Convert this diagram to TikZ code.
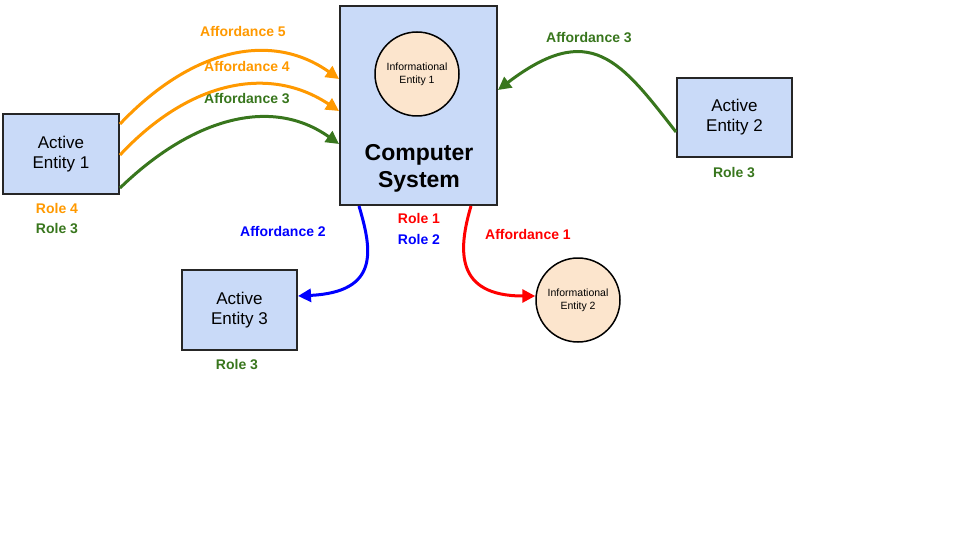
\documentclass[tikz,border=0pt]{standalone}
\usepackage{fontspec}
\setmainfont{Liberation Sans}
\usetikzlibrary{arrows.meta}
\definecolor{boxblue}{HTML}{C9DAF8}
\definecolor{peach}{HTML}{FCE5CD}
\definecolor{cor}{HTML}{FF9900}
\definecolor{cgr}{HTML}{38761D}
\definecolor{cbl}{HTML}{0000FF}
\definecolor{crd}{HTML}{FF0000}
\tikzset{
 ent/.style={draw=black!85,line width=2pt,fill=boxblue,align=center,font=\fontsize{17}{20}\selectfont},
 info/.style={circle,draw=black,line width=1.5pt,fill=peach,align=center,font=\fontsize{10.5}{13}\selectfont,minimum size=84pt,inner sep=0pt},
 lab/.style={font=\bfseries\fontsize{14}{16}\selectfont},
 arr/.style={line width=3pt,-{Triangle[length=13pt,width=13pt]}},
}
\begin{document}
\begin{tikzpicture}[x=1pt,y=-1pt]
\useasboundingbox (0,0) rectangle (960,540);
\node[ent,minimum width=116pt,minimum height=80pt] (a1) at (61,154) {Active\\Entity 1};
\node[ent,minimum width=157pt,minimum height=199pt] (cs) at (418.5,105.5) {};
\node[info] (i1) at (417,74) {Informational\\Entity 1};
\node[font=\bfseries\fontsize{23}{27}\selectfont,align=center] (cst) at (419,168) {Computer\\System};
\node[ent,minimum width=115pt,minimum height=79pt] (a2) at (734.5,117.5) {Active\\Entity 2};
\node[ent,minimum width=115pt,minimum height=80pt] (a3) at (239.5,310) {Active\\Entity 3};
\node[info] (i2) at (578,300) {Informational\\Entity 2};
\node[lab,text=cgr] (r3b) at (734,173) {Role 3};
\node[lab,text=cgr] (r3c) at (237,365) {Role 3};
\node[lab,text=cor] (r4) at (57,208) {Role 4};
\node[lab,text=cgr] (r3a) at (57,229) {Role 3};
\node[lab,text=crd] (r1) at (419,218) {Role 1};
\node[lab,text=cbl] (r2) at (419,239) {Role 2};
\node[lab,text=cor] (f5) at (243,31) {Affordance 5};
\node[lab,text=cor] (f4) at (247,66) {Affordance 4};
\node[lab,text=cgr] (f3) at (247,99) {Affordance 3};
\node[lab,text=cgr] (f3b) at (589,38) {Affordance 3};
\node[lab,text=cbl] (f2) at (283,231) {Affordance 2};
\node[lab,text=crd] (f1) at (528,234) {Affordance 1};
\draw[arr,cor] (a1.east |- 0,124) .. controls (190,50) and (270,30) .. (cs.west |- 0,79);
\draw[arr,cor] (a1.east |- 0,155) .. controls (190,80) and (270,65) .. (cs.west |- 0,111);
\draw[arr,cgr] (a1.east |- 0,188) .. controls (190,120) and (270,95) .. (cs.west |- 0,144);
\draw[arr,cgr] (a2.west |- 0,132) .. controls (620,60) and (590,20) .. (cs.east |- 0,90);
\draw[arr,cbl] (cs.south -| 359,0) .. controls (372,250) and (380,292) .. (a3.east |- 0,296);
\draw[arr,crd] (cs.south -| 471,0) .. controls (458,250) and (455,296) .. (i2.west |- 0,296);
\end{tikzpicture}
\end{document}
